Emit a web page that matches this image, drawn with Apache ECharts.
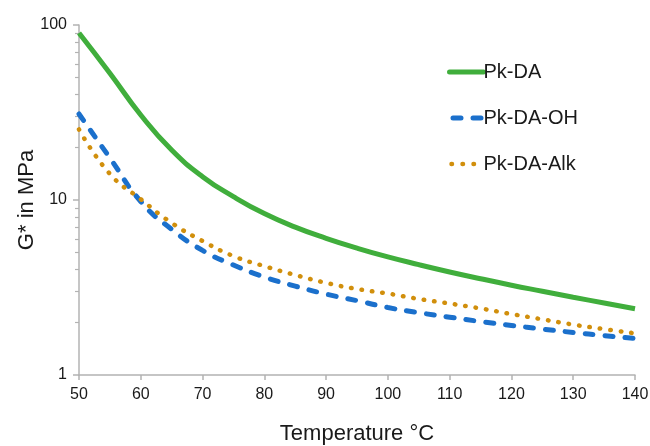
<!DOCTYPE html>
<html>
<head>
<meta charset="UTF-8">
<title>G* vs Temperature</title>
<script type="text/javascript" src="https://cdn.jsdelivr.net/npm/echarts@6/dist/echarts.min.js"></script>
<style type="text/css">
    html,body{margin:0;padding:0;background:#fff;}
    #chart{width:650px;height:446px;}
</style>
</head>
<body>
<div id="chart"></div>
<script>
// data
var temps   = [50, 55, 60, 65, 70, 75, 80, 85, 90, 95, 100, 105, 110, 115, 120, 125, 130, 135, 140];
var pkDA    = [90, 53, 30.6, 19.3, 13.6, 10.45, 8.36, 7.0, 6.04, 5.31, 4.73, 4.27, 3.88, 3.55, 3.26, 3.01, 2.78, 2.58, 2.39];
var pkDAOH  = [31, 17.4, 9.8, 6.8, 5.15, 4.25, 3.63, 3.22, 2.9, 2.66, 2.43, 2.27, 2.14, 2.02, 1.92, 1.83, 1.75, 1.68, 1.62];
var pkDAAlk = [25.3, 14.1, 10.1, 7.4, 5.83, 4.78, 4.19, 3.73, 3.36, 3.1, 2.92, 2.72, 2.56, 2.4, 2.23, 2.08, 1.94, 1.83, 1.73];
var yMajor  = [1, 10, 100];
var yMinor  = [2, 3, 4, 5, 6, 7, 8, 9, 20, 30, 40, 50, 60, 70, 80, 90];

function pairs(ys) {
    var out = [];
    for (var i = 0; i < temps.length; i++) {
        out.push([temps[i], ys[i]]);
    }
    return out;
}

var myChart = echarts.init(document.getElementById('chart'));
var axisGray = '#b3b3b3';
var font = 'Liberation Sans, Arial, sans-serif';
var green = '#40ae3c', blue = '#1b70cc', orange = '#d18f0c';
var dashOH = [8, 12], dotAlk = [0.5, 10];
var legendDotAlk = [0.5, 10.5];

var option = {
    animation: false,
    textStyle: { fontFamily: font },
    grid: {
        left: 79,
        right: 15,
        top: 25,
        bottom: 71,
        outerBoundsMode: 'none'
    },
    legend: {
        orient: 'vertical',
        left: 442,
        top: 57,
        itemWidth: 34,
        itemHeight: 14,
        itemGap: 26,
        itemStyle: { opacity: 0 },
        textStyle: {
            fontFamily: font,
            fontSize: 20,
            color: '#1a1a1a',
            lineHeight: 20,
            padding: [0, 0, 0, -5]
        },
        data: [
            { name: 'Pk-DA', lineStyle: { width: 5, color: green, cap: 'round' } },
            { name: 'Pk-DA-OH', lineStyle: { width: 5, color: blue, type: dashOH, dashOffset: -3.5, cap: 'round' } },
            { name: 'Pk-DA-Alk', lineStyle: { width: 4.5, color: orange, type: legendDotAlk, dashOffset: -2, cap: 'round' } }
        ]
    },
    xAxis: {
        type: 'value',
        min: 50,
        max: 140,
        interval: 10,
        name: 'Temperature \u00B0C',
        nameLocation: 'middle',
        nameGap: 48,
        nameMoveOverlap: false,
        nameTextStyle: { fontSize: 22, color: '#1a1a1a', fontFamily: font },
        axisLine: { lineStyle: { color: axisGray, width: 1.5 } },
        axisTick: { show: true, length: 5, lineStyle: { color: axisGray, width: 1.5 } },
        axisLabel: { fontSize: 16, color: '#1a1a1a', margin: 12, fontFamily: font },
        splitLine: { show: false }
    },
    yAxis: [
        {
            type: 'log',
            logBase: 10,
            min: 1,
            max: 100,
            name: 'G* in MPa',
            nameLocation: 'middle',
            nameGap: 41,
            nameMoveOverlap: false,
            nameTextStyle: { fontSize: 22, color: '#1a1a1a', fontFamily: font },
            axisLine: { show: true, lineStyle: { color: axisGray, width: 1.5 } },
            axisTick: { show: true, length: 6, customValues: yMajor, lineStyle: { color: axisGray, width: 1.5 } },
            axisLabel: { fontSize: 16, color: '#1a1a1a', margin: 12, customValues: yMajor, fontFamily: font },
            splitLine: { show: false }
        },
        {
            type: 'log',
            logBase: 10,
            min: 1,
            max: 100,
            position: 'left',
            axisLine: { show: false },
            axisTick: { show: true, length: 4, customValues: yMinor, lineStyle: { color: axisGray, width: 1.2 } },
            axisLabel: { show: false },
            splitLine: { show: false }
        }
    ],
    series: [
        {
            name: 'Pk-DA',
            type: 'line',
            smooth: true,
            symbol: 'none',
            showSymbol: false,
            color: green,
            lineStyle: { width: 5, color: green },
            data: pairs(pkDA)
        },
        {
            name: 'Pk-DA-OH',
            type: 'line',
            smooth: true,
            symbol: 'none',
            showSymbol: false,
            color: blue,
            lineStyle: { width: 5, color: blue, type: dashOH, cap: 'round' },
            data: pairs(pkDAOH)
        },
        {
            name: 'Pk-DA-Alk',
            type: 'line',
            smooth: true,
            symbol: 'none',
            showSymbol: false,
            color: orange,
            lineStyle: { width: 4.5, color: orange, type: dotAlk, cap: 'round' },
            data: pairs(pkDAAlk)
        }
    ]
};
myChart.setOption(option);
</script>
</body>
</html>
